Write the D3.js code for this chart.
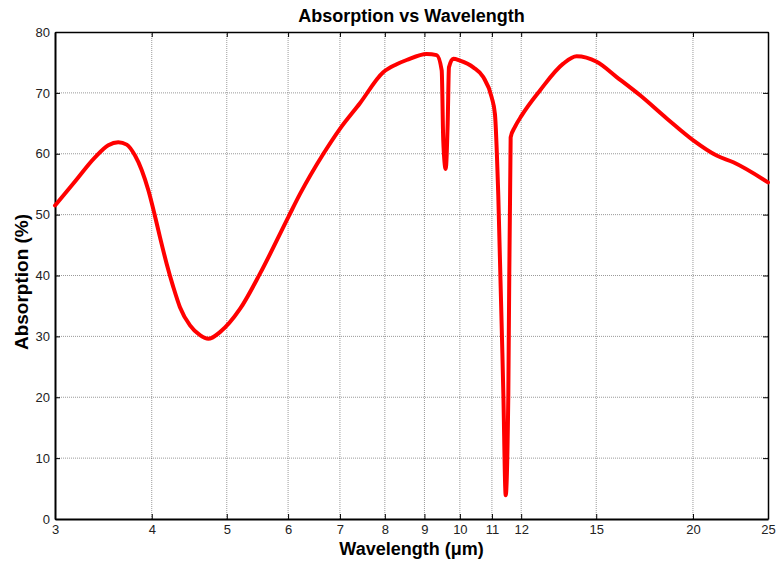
<!DOCTYPE html>
<html>
<head>
<meta charset="utf-8">
<script src="https://cdn.jsdelivr.net/npm/d3@7"></script>
<style>
  body { margin: 0; background: #fff; }
  text { font-family: "Liberation Sans", Arial, sans-serif; }
</style>
</head>
<body>
<svg id="chart" width="778" height="565"></svg>
<script>
// wavelength (um) and absorption (%)
let wavelength = [3.0, 3.168, 3.379, 3.515, 3.621, 3.713, 3.806, 3.883, 3.96, 4.031,
  4.099, 4.182, 4.265, 4.35, 4.482, 4.617, 4.733, 4.9, 5.2, 5.519,
  6.004, 6.217, 6.664, 7.0, 7.429, 7.962, 8.286, 8.536, 9.06, 9.333,
  9.474, 9.518, 9.587, 9.644, 9.681, 9.806, 10.003, 10.407, 10.72, 10.99,
  11.10, 11.21, 11.38, 11.46, 11.55, 11.63, 11.78, 12.02, 12.69, 13.60,
  14.15, 15.02, 15.94, 17.09, 18.50, 20.02, 21.46, 22.55, 25.0];
let absorption = [51.5, 55.1, 59.4, 61.4, 61.9, 61.5, 59.7, 57.3, 54.0, 50.2,
  46.3, 41.9, 38.1, 34.8, 31.8, 30.2, 29.6, 30.7, 34.5, 40.3,
  49.6, 53.4, 60.0, 64.1, 68.3, 73.4, 74.7, 75.4, 76.4, 76.2,
  73.7, 62.2, 57.5, 65.0, 74.2, 75.6, 75.3, 74.2, 72.6, 69.3,
  66.5, 53.2, 20.6, 3.9, 20.6, 62.7, 64.4, 66.3, 70.4, 74.8,
  76.0, 75.1, 72.6, 69.6, 65.8, 62.2, 59.7, 58.6, 55.3];

let xTicks = [3, 4, 5, 6, 7, 8, 9, 10, 11, 12, 15, 20, 25];
let yTicks = [0, 10, 20, 30, 40, 50, 60, 70, 80];

let margin = {left: 55, right: 10, top: 32, bottom: 46};
let width = 778, height = 565;
let innerW = width - margin.left - margin.right;
let innerH = height - margin.top - margin.bottom;

let svg = d3.select('#chart');

let x = d3.scaleLog().domain([3, 25]).range([0, innerW]);
let y = d3.scaleLinear().domain([0, 80]).range([innerH, 0]);

let g = svg.append('g')
  .attr('transform', 'translate(' + margin.left + ',' + margin.top + ')');

// grid
g.selectAll('.vgrid').data(xTicks.slice(1, -1)).enter().append('line')
  .attr('x1', d => x(d)).attr('x2', d => x(d))
  .attr('y1', 0).attr('y2', innerH)
  .attr('stroke', '#555').attr('stroke-width', 0.6)
  .attr('stroke-dasharray', '1,1');

g.selectAll('.hgrid').data(yTicks.slice(1, -1)).enter().append('line')
  .attr('x1', 0).attr('x2', innerW)
  .attr('y1', d => y(d)).attr('y2', d => y(d))
  .attr('stroke', '#555').attr('stroke-width', 0.6)
  .attr('stroke-dasharray', '1,1');

// axes, ticks pointing in
let xAxis = d3.axisBottom(x).tickValues(xTicks).tickFormat(d3.format('d'))
  .tickSizeInner(-5).tickSizeOuter(0).tickPadding(6);
let yAxis = d3.axisLeft(y).tickValues(yTicks)
  .tickSizeInner(-5).tickSizeOuter(0).tickPadding(5);

let gx = g.append('g').attr('transform', 'translate(0,' + innerH + ')').call(xAxis);
let gy = g.append('g').call(yAxis);

let gxTop = g.append('g').call(d3.axisTop(x).tickValues(xTicks)
  .tickSizeInner(-5).tickSizeOuter(0).tickFormat(''));
let gyRight = g.append('g').attr('transform', 'translate(' + innerW + ',0)')
  .call(d3.axisRight(y).tickValues(yTicks).tickSizeInner(-5).tickSizeOuter(0).tickFormat(''));

[gx, gy, gxTop, gyRight].forEach(function(a) {
  a.selectAll('.tick line').attr('stroke', '#000').attr('stroke-width', 1);
  a.selectAll('.tick text').attr('font-size', 13).attr('fill', '#222')
    .style('font-family', '"Liberation Sans", Arial, sans-serif');
});
gx.select('.domain').attr('stroke-width', 2);
gy.select('.domain').attr('stroke-width', 2);
gxTop.select('.domain').attr('stroke-width', 1.5);
gyRight.select('.domain').attr('stroke-width', 1.5);

// the curve
let line = d3.line()
  .x((d, i) => x(wavelength[i]))
  .y(d => y(d))
  .curve(d3.curveMonotoneX);

g.append('path')
  .datum(absorption)
  .attr('d', line)
  .attr('fill', 'none')
  .attr('stroke', '#ff0000')
  .attr('stroke-width', 4)
  .attr('stroke-linejoin', 'round')
  .attr('stroke-linecap', 'round');

// labels
svg.append('text')
  .attr('x', margin.left + innerW / 2).attr('y', 22)
  .attr('text-anchor', 'middle')
  .attr('font-size', 18).attr('font-weight', 'bold')
  .text('Absorption vs Wavelength');

svg.append('text')
  .attr('x', margin.left + innerW / 2).attr('y', 555)
  .attr('text-anchor', 'middle')
  .attr('font-size', 18).attr('font-weight', 'bold')
  .text('Wavelength (\u03bcm)');

svg.append('text')
  .attr('transform', 'translate(28,282) rotate(-90)')
  .attr('text-anchor', 'middle')
  .attr('font-size', 19).attr('font-weight', 'bold')
  .text('Absorption (%)');
</script>
</body>
</html>
